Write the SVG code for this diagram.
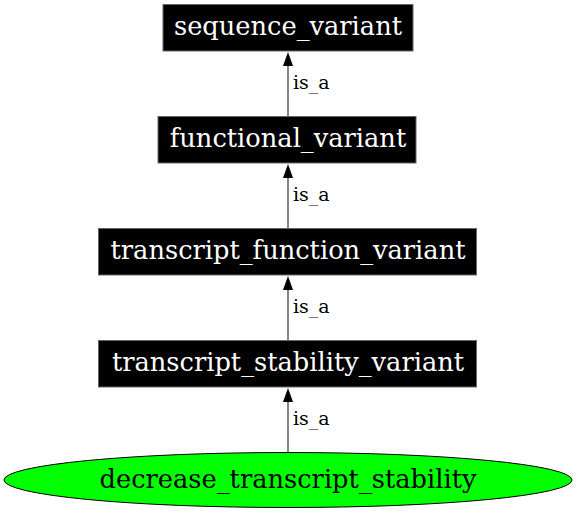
<svg xmlns="http://www.w3.org/2000/svg" width="576" height="512" viewBox="0 0 576 512">
<style>
.box{fill:#000;stroke:#666;stroke-width:1}
.nt{font-family:"DejaVu Serif",serif;font-size:25.7px;fill:#fff;text-anchor:middle}
.et{font-family:"DejaVu Serif",serif;font-size:19px;fill:#000}
.edge{stroke:#444;stroke-width:1.3;fill:none}
</style>
<rect width="576" height="512" fill="#fff"/>
<g id="connectors">
<line class="edge" x1="288" y1="117" x2="288" y2="66"/>
<path d="M283,66 L288,52 L293,66 Z" fill="#000"/>
<text class="et" x="293" y="89">is_a</text>
<line class="edge" x1="288" y1="229" x2="288" y2="178"/>
<path d="M283,178 L288,164 L293,178 Z" fill="#000"/>
<text class="et" x="293" y="201">is_a</text>
<line class="edge" x1="288" y1="341" x2="288" y2="290"/>
<path d="M283,290 L288,276 L293,290 Z" fill="#000"/>
<text class="et" x="293" y="313">is_a</text>
<line class="edge" x1="288" y1="452" x2="288" y2="402"/>
<path d="M283,402 L288,388 L293,402 Z" fill="#000"/>
<text class="et" x="293" y="425">is_a</text>
</g>
<g id="sequence_variant">
<rect class="box" x="163" y="4.5" width="250" height="46.5"/>
<text class="nt" x="288" y="35">sequence_variant</text>
</g>
<g id="functional_variant">
<rect class="box" x="158" y="116.5" width="258" height="46.5"/>
<text class="nt" x="288" y="147">functional_variant</text>
</g>
<g id="transcript_function_variant">
<rect class="box" x="98.5" y="228.5" width="378" height="46.5"/>
<text class="nt" x="288" y="258.5">transcript_function_variant</text>
</g>
<g id="transcript_stability_variant">
<rect class="box" x="98.5" y="340.5" width="378" height="46.5"/>
<text class="nt" x="288" y="370.5">transcript_stability_variant</text>
</g>
<g id="decrease_transcript_stability">
<ellipse cx="288" cy="480" rx="284" ry="27.5" fill="#00ff00" stroke="#000" stroke-width="1"/>
<text class="nt" x="288" y="488" style="fill:#000">decrease_transcript_stability</text>
</g>
</svg>
